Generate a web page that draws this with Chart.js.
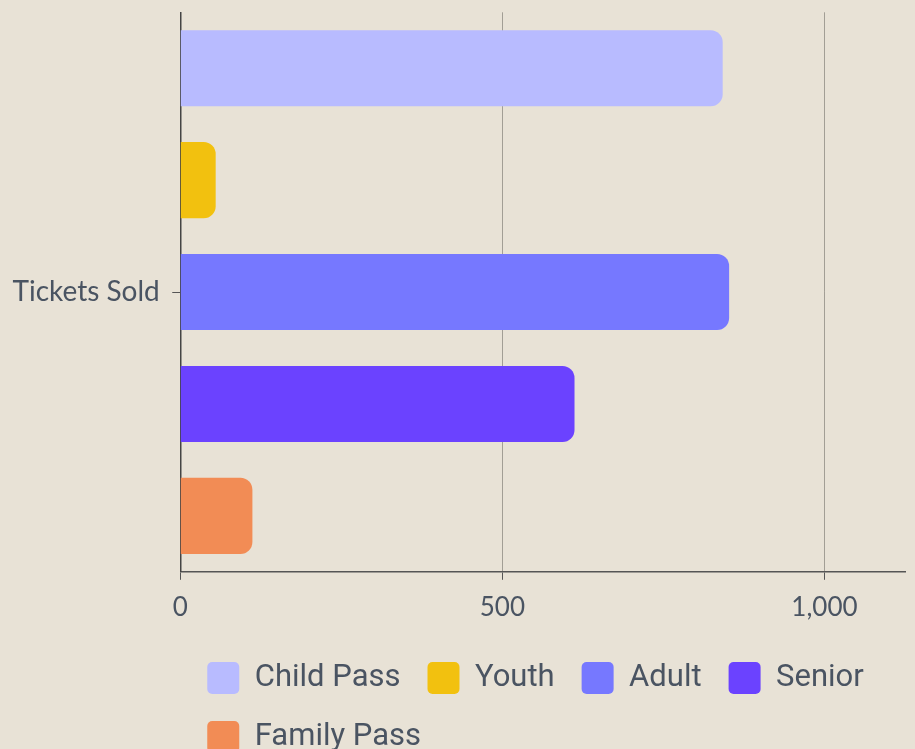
<!DOCTYPE html>
<html>
<head>
<meta charset="utf-8">
<script src="https://cdn.jsdelivr.net/npm/chart.js@4.4.1/dist/chart.umd.min.js"></script>
<style>
    html, body { margin: 0; padding: 0; background: #e8e2d6; overflow: hidden; }
    #wrap { position: relative; width: 915px; height: 780px; margin-top: -17px; }
</style>
</head>
<body>
<div id="wrap"><canvas id="tickets"></canvas></div>
<script>
// chart data
const categories = ["Tickets Sold"];
const seriesNames = ["Child Pass", "Youth", "Adult", "Senior", "Family Pass"];
const seriesValues = [842, 55, 852, 612, 112];
const seriesColors = ["#b8bbff", "#f2c10f", "#7678ff", "#6b42ff", "#f28c55"];
const xTicks = [0, 500, 1000];

const textColor = "#4a5462";

let tickets = new Chart(document.getElementById("tickets").getContext("2d"), {
    type: 'bar',
    data: {
        labels: categories,
        datasets: seriesNames.map((name, i) => ({
            label: name,
            data: [seriesValues[i]],
            backgroundColor: seriesColors[i],
            borderRadius: 12,
            categoryPercentage: 1,
            barPercentage: 0.68
        }))
    },
    options: {
        indexAxis: 'y',
        responsive: true,
        maintainAspectRatio: false,
        animation: false,
        layout: {
            padding: { top: 12, right: 10, bottom: 0, left: 0 }
        },
        scales: {
            x: {
                min: 0,
                max: 1125,
                afterBuildTicks: (axis) => { axis.ticks = xTicks.map(v => ({ value: v })); },
                ticks: {
                    includeBounds: false,
                    padding: 12,
                    color: textColor,
                    font: { family: 'Lato', size: 26 },
                    callback: (v) => v.toLocaleString('en-US')
                },
                grid: {
                    color: 'rgba(0,0,0,0.3)',
                    tickColor: '#555',
                    tickLength: 8
                },
                border: { color: '#555', width: 1.5 }
            },
            y: {
                ticks: {
                    padding: 12.5,
                    color: textColor,
                    font: { family: 'Lato', size: 28 }
                },
                grid: {
                    offset: false,
                    drawOnChartArea: false,
                    tickColor: '#555',
                    tickLength: 8
                },
                border: { color: '#444', width: 1.5 }
            }
        },
        plugins: {
            tooltip: { enabled: false },
            legend: {
                position: 'bottom',
                align: 'start',
                fullSize: false,
                labels: {
                    boxWidth: 32,
                    boxHeight: 32,
                    useBorderRadius: true,
                    borderRadius: 5,
                    padding: 27,
                    color: textColor,
                    font: { family: 'Roboto', size: 31 }
                }
            }
        }
    }
});
</script>
</body>
</html>
